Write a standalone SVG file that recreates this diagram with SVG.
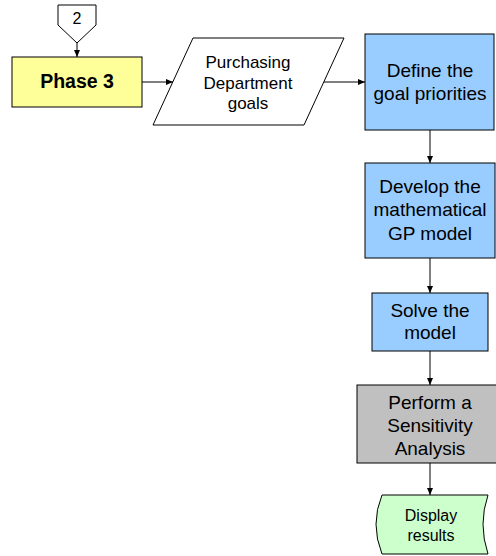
<svg xmlns="http://www.w3.org/2000/svg" width="496" height="556" viewBox="0 0 496 556">
<defs>
<marker id="ah" markerWidth="8" markerHeight="8" refX="7" refY="4" orient="auto" markerUnits="userSpaceOnUse">
<path d="M0,1 L7,4 L0,7 Z" fill="#000"/>
</marker>
<style>
.s{stroke:#000;stroke-width:1}
.t{font-family:"Liberation Sans",Arial,sans-serif;fill:#000;text-anchor:middle}
.c{stroke:#000;stroke-width:1;fill:none;marker-end:url(#ah)}
</style>
</defs>
<rect width="496" height="556" fill="#fff"/>
<g id="connectors">
<line class="c" x1="77" y1="43" x2="77" y2="57"/>
<line class="c" x1="142" y1="82" x2="173" y2="82"/>
<line class="c" x1="324" y1="82" x2="365" y2="82"/>
<line class="c" x1="430" y1="130" x2="430" y2="163"/>
<line class="c" x1="430" y1="258" x2="430" y2="293"/>
<line class="c" x1="430" y1="351" x2="430" y2="385"/>
<line class="c" x1="430" y1="463" x2="430" y2="495"/>
</g>
<g id="offpage2">
<path class="s" d="M58,5 H96 V25 L77,43 L58,25 Z" fill="#fff"/>
<text class="t" x="77" y="24" font-size="16">2</text>
</g>
<g id="phase3">
<rect class="s" x="12" y="57" width="130" height="50" fill="#FFFF99"/>
<text class="t" x="77" y="88" font-size="19.5" font-weight="bold">Phase 3</text>
</g>
<g id="purchasing">
<path class="s" d="M193,38 H344 L304,125 H153 Z" fill="#fff"/>
<text class="t" font-size="17"><tspan x="248" y="68">Purchasing</tspan><tspan x="248" y="88.5">Department</tspan><tspan x="248" y="109">goals</tspan></text>
</g>
<g id="define">
<rect class="s" x="365" y="34" width="129" height="96" fill="#99CCFF"/>
<text class="t" font-size="19"><tspan x="430" y="77">Define the</tspan><tspan x="430" y="99.5">goal priorities</tspan></text>
</g>
<g id="develop">
<rect class="s" x="365" y="163" width="130" height="95" fill="#99CCFF"/>
<text class="t" font-size="19"><tspan x="430" y="193">Develop the</tspan><tspan x="430" y="216">mathematical</tspan><tspan x="430" y="239.5">GP model</tspan></text>
</g>
<g id="solve">
<rect class="s" x="372" y="293" width="116" height="58" fill="#99CCFF"/>
<text class="t" font-size="19"><tspan x="430" y="316.5">Solve the</tspan><tspan x="430" y="339">model</tspan></text>
</g>
<g id="perform">
<rect class="s" x="357" y="385" width="140" height="78" fill="#C0C0C0"/>
<text class="t" font-size="19"><tspan x="430" y="409">Perform a</tspan><tspan x="430" y="432">Sensitivity</tspan><tspan x="430" y="455">Analysis</tspan></text>
</g>
<g id="display">
<path class="s" d="M382,495 H488 Q478,524 488,554 H382 Q370,524 382,495 Z" fill="#CCFFCC"/>
<text class="t" font-size="16"><tspan x="431" y="521">Display</tspan><tspan x="431" y="541">results</tspan></text>
</g>
</svg>
